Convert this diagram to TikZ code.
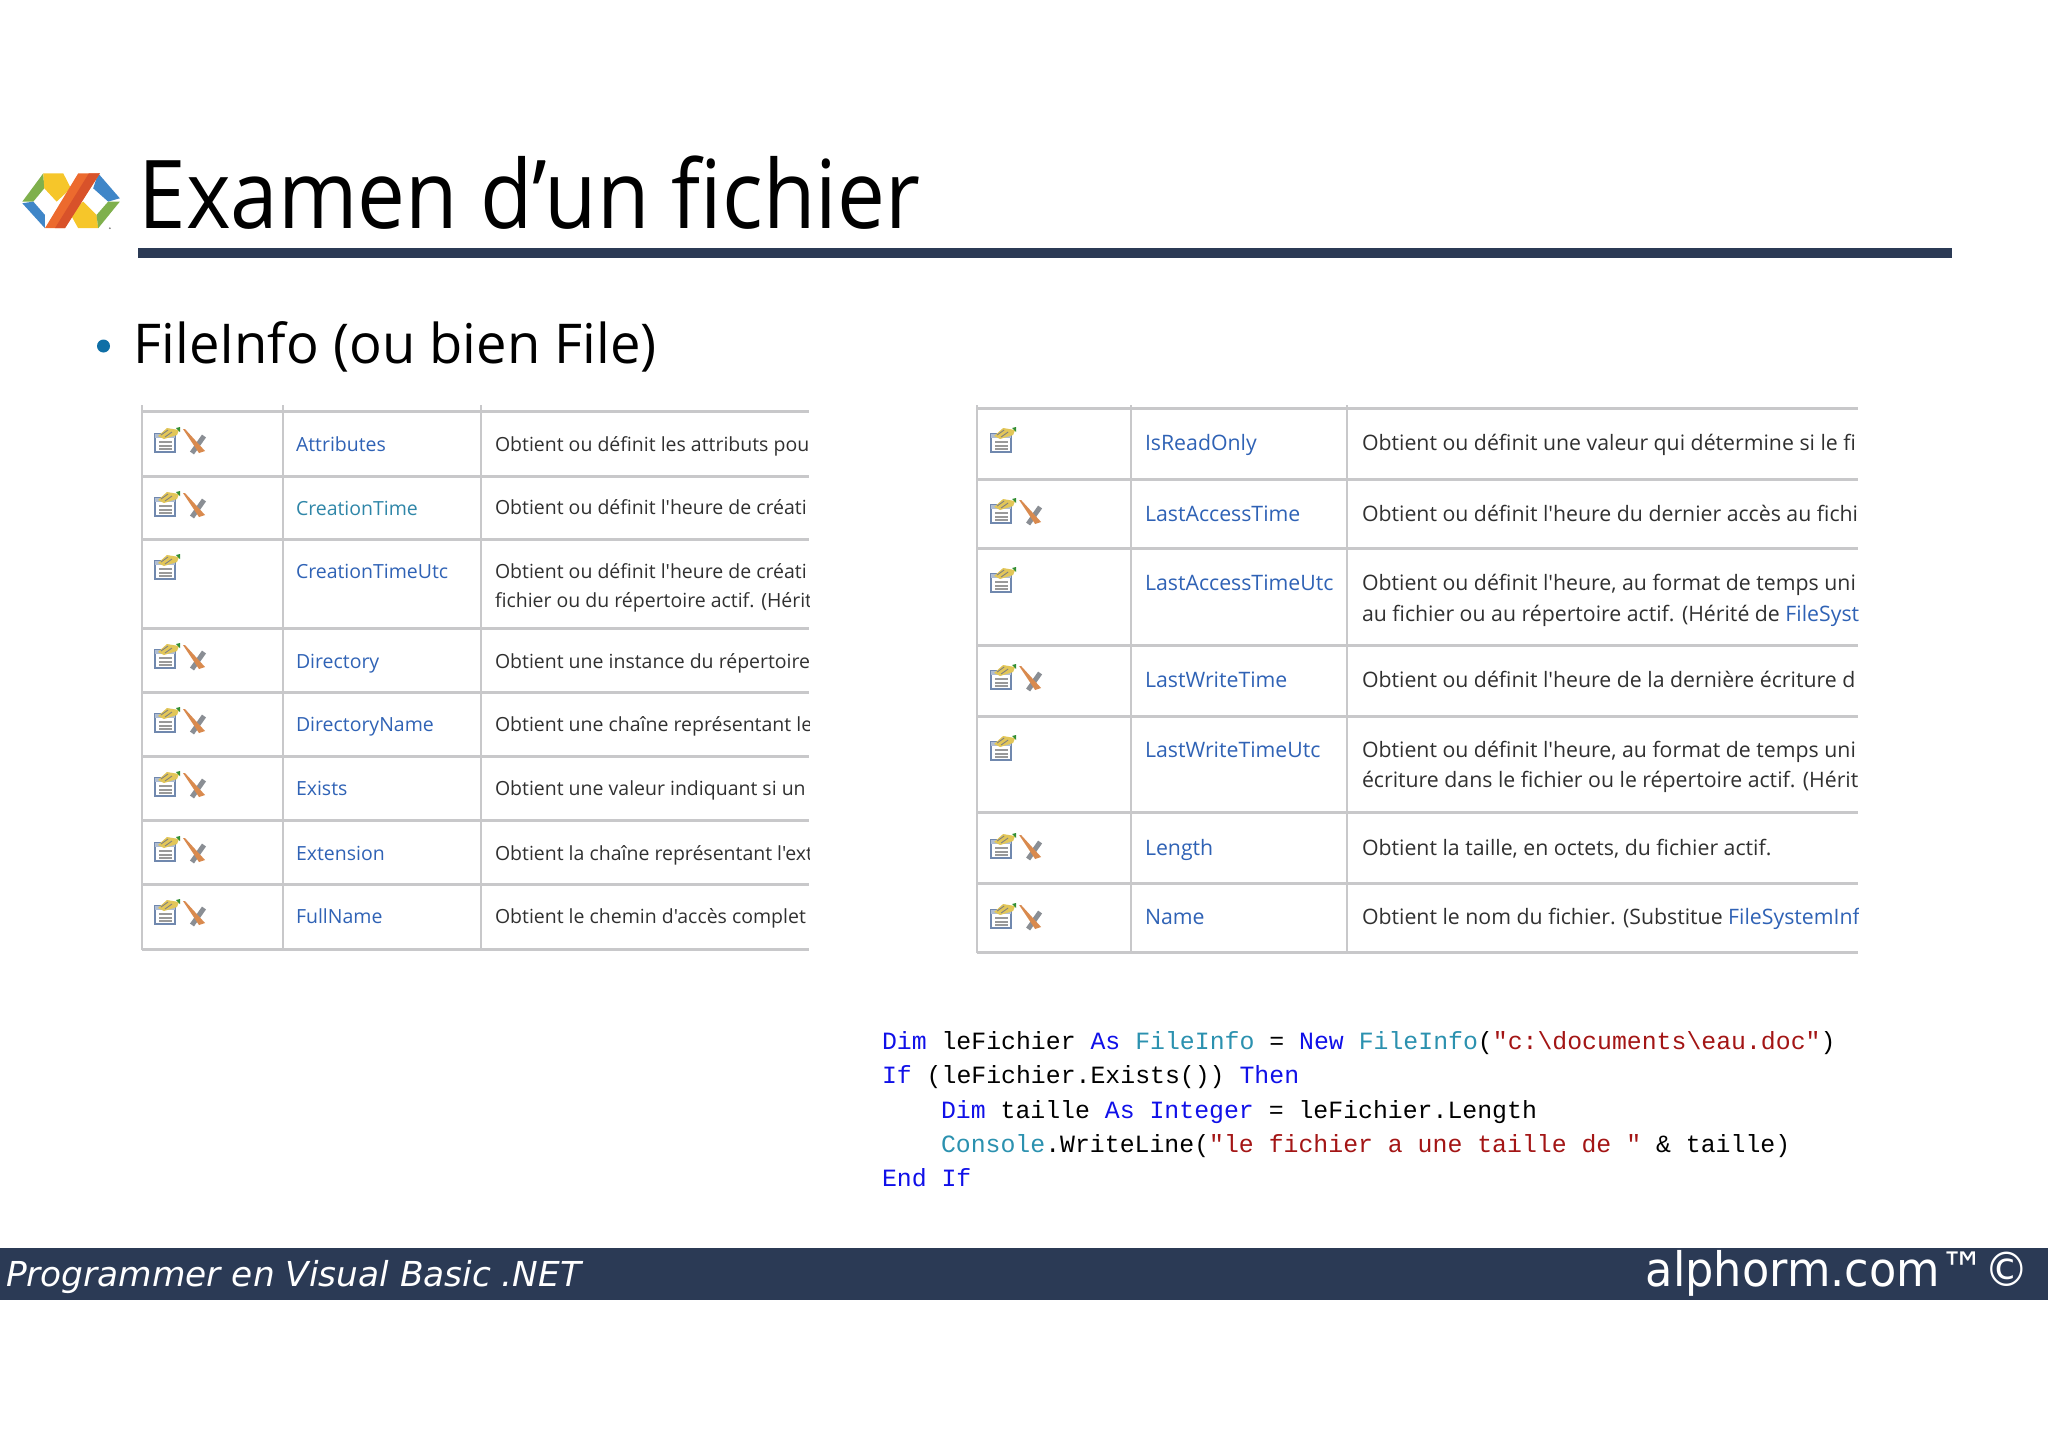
\documentclass[tikz,border=0pt]{standalone}
\usepackage{fontspec}
\usepackage{xcolor}
\newfontfamily\titlefont[FakeStretch=0.90]{Open Sans}
\newfontfamily\slidefont{Open Sans}
\newfontfamily\bulletfont[FakeStretch=0.99]{Open Sans}
\newfontfamily\codefont{Liberation Mono}
\newfontfamily\footfont{DejaVu Sans}
\newfontfamily\brandfont[FakeStretch=0.94]{DejaVu Sans}
\definecolor{barblue}{HTML}{2B3A55}
\definecolor{dotblue}{HTML}{0F6FA6}
\definecolor{linkblue}{HTML}{2F62B5}
\definecolor{linkteal}{HTML}{2F86A8}
\definecolor{gridgray}{HTML}{C8C8CA}
\definecolor{celltext}{HTML}{303030}
\definecolor{kwblue}{HTML}{1010E8}
\definecolor{typeteal}{HTML}{2B91AF}
\definecolor{strred}{HTML}{A31515}
\definecolor{logogreen}{HTML}{7FB04C}
\definecolor{logoblue}{HTML}{3F86C8}
\definecolor{logoyellow}{HTML}{F6C62A}
\definecolor{logoorange}{HTML}{EC6A2E}
\definecolor{logored}{HTML}{D8522A}
\definecolor{handyellow}{HTML}{E2C658}
\definecolor{paperblue}{HTML}{7088AE}
\definecolor{xorange}{HTML}{D98A4E}
\definecolor{xgray}{HTML}{8A8E94}
\tikzset{
  txt/.style={anchor=base west,inner sep=0pt,outer sep=0pt},
  title/.style={txt,font=\titlefont\fontsize{27}{30}\selectfont},
  bullet/.style={txt,font=\bulletfont\fontsize{15.6}{18}\selectfont},
  leftcell/.style={txt,text=celltext,font=\slidefont\fontsize{5.54}{7}\selectfont},
  rightcell/.style={txt,text=celltext,font=\slidefont\fontsize{6.05}{7}\selectfont},
  gridh/.style={gridgray,line width=0.85pt},
  gridv/.style={gridgray,line width=0.55pt},
  code/.style={txt,font=\codefont\fontsize{7.06}{9}\selectfont},
  propicon/.pic={
    \fill[white,draw=paperblue,line width=0.4pt] (0,6) rectangle (20,24);
    \fill[paperblue!55] (0,6) rectangle (20,10);
    \draw[black!40,line width=0.3pt] (4,14) -- (17,14) (4,18) -- (17,18) (4,21) -- (17,21);
    \fill[handyellow] (3,8) -- (12,0) -- (24,2) -- (22,7) -- (9,11) -- cycle;
    \draw[black!50,line width=0.25pt] (6,7) -- (13,2) (10,9) -- (17,4);
    \fill[green!45!black!80] (21,0) -- (25,-1) -- (25,4) -- cycle;
  },
  statx/.pic={
    \draw[xgray,line width=1.4pt] (49,8) -- (37,25);
    \fill[xorange] (28,1) -- (30,1) -- (50,23) -- (44,25) -- cycle;
  }
}

\begin{document}
\begin{tikzpicture}[x=0.01cm,y=-0.01cm]
\useasboundingbox (0,0) rectangle (2048,1447);

% logo
\begin{scope}[shift={(15,160)},x=0.00333cm,y=-0.00333cm]
\fill[logogreen] (22,125) -- (85,40) -- (88,85) -- (55,125) -- cycle;
\fill[logoblue] (22,130) -- (55,125) -- (90,165) -- (90,205) -- cycle;
\fill[logoyellow] (85,40) -- (145,40) -- (168,85) -- (125,125) -- (88,85) -- cycle;
\fill[logoyellow] (165,160) -- (205,125) -- (245,165) -- (250,205) -- (190,205) -- cycle;
\fill[logoblue] (250,40) -- (315,115) -- (280,125) -- (235,85) -- cycle;
\fill[logogreen] (315,125) -- (280,125) -- (245,165) -- (250,205) -- cycle;
\fill[logoorange] (190,40) -- (255,40) -- (150,205) -- (90,205) -- cycle;
\fill[logored] (222,40) -- (255,40) -- (150,205) -- (120,205) -- cycle;
\fill[gray] (285,205) circle (3);
\end{scope}

% title
\node[title] (titre) at (138.5,228) {Examen d’un fichier};
\fill[barblue] (138,248) rectangle (1952,258);
\fill[dotblue] (103.5,346) circle (6.5);
\node[bullet] (point) at (133.5,363) {FileInfo (ou bien File)};

% left table
\draw[gridv] (142,405) -- (142,950);
\draw[gridv] (283,405) -- (283,950);
\draw[gridv] (481,405) -- (481,950);
\draw[gridh] (142,411) -- (809,411);
\draw[gridh] (142,476) -- (809,476);
\draw[gridh] (142,539) -- (809,539);
\draw[gridh] (142,628) -- (809,628);
\draw[gridh] (142,692) -- (809,692);
\draw[gridh] (142,756) -- (809,756);
\draw[gridh] (142,820) -- (809,820);
\draw[gridh] (142,884) -- (809,884);
\draw[gridh] (142,949) -- (809,949);

\pic at (155,428) {propicon}; \pic at (155,428) {statx};
\pic at (155,492) {propicon}; \pic at (155,492) {statx};
\pic at (155,555) {propicon};
\pic at (155,644) {propicon}; \pic at (155,644) {statx};
\pic at (155,708) {propicon}; \pic at (155,708) {statx};
\pic at (155,772) {propicon}; \pic at (155,772) {statx};
\pic at (155,837) {propicon}; \pic at (155,837) {statx};
\pic at (155,900) {propicon}; \pic at (155,900) {statx};

\begin{scope}
\clip (283,400) rectangle (809,955);
\node[leftcell,text=linkblue] (attributes) at (296,451) {Attributes};
\node[leftcell,text=linkteal] (creation) at (296,515) {CreationTime};
\node[leftcell,text=linkblue] (creationutc) at (296,578) {CreationTimeUtc};
\node[leftcell,text=linkblue] (directory) at (296,668) {Directory};
\node[leftcell,text=linkblue] (dirname) at (296,731) {DirectoryName};
\node[leftcell,text=linkblue] (exists) at (296,795) {Exists};
\node[leftcell,text=linkblue] (extension) at (296,860) {Extension};
\node[leftcell,text=linkblue] (fullname) at (296,923) {FullName};
\node[leftcell] (attributesd) at (495,451) {Obtient ou définit les attributs pou};
\node[leftcell] (creationd) at (495,514) {Obtient ou définit l'heure de créati};
\node[leftcell] (creationutcd) at (495,578) {Obtient ou définit l'heure de créati};
\node[leftcell] (creationutce) at (495,607) {fichier ou du répertoire actif. (Hérit};
\node[leftcell] (directoryd) at (495,668) {Obtient une instance du répertoire};
\node[leftcell] (dirnamed) at (495,731) {Obtient une chaîne représentant le};
\node[leftcell] (existsd) at (495,795) {Obtient une valeur indiquant si un};
\node[leftcell] (extensiond) at (495,860) {Obtient la chaîne représentant l'ext};
\node[leftcell] (fullnamed) at (495,923) {Obtient le chemin d'accès complet};
\end{scope}

% right table
\draw[gridv] (977,405) -- (977,953);
\draw[gridv] (1131,405) -- (1131,953);
\draw[gridv] (1347,405) -- (1347,953);
\draw[gridh] (977,408) -- (1858,408);
\draw[gridh] (977,479) -- (1858,479);
\draw[gridh] (977,548) -- (1858,548);
\draw[gridh] (977,645) -- (1858,645);
\draw[gridh] (977,716) -- (1858,716);
\draw[gridh] (977,812) -- (1858,812);
\draw[gridh] (977,883) -- (1858,883);
\draw[gridh] (977,952) -- (1858,952);

\begin{scope}[xscale=1.1]
\pic at (901,428) {propicon};
\pic at (901,499) {propicon}; \pic at (901,499) {statx};
\pic at (901,568) {propicon};
\pic at (901,665) {propicon}; \pic at (901,665) {statx};
\pic at (901,736) {propicon};
\pic at (901,834) {propicon}; \pic at (901,834) {statx};
\pic at (901,904) {propicon}; \pic at (901,904) {statx};
\end{scope}

\begin{scope}
\clip (1131,400) rectangle (1858,958);
\node[rightcell,text=linkblue] (readonly) at (1145,450) {IsReadOnly};
\node[rightcell,text=linkblue] (access) at (1145,521) {LastAccessTime};
\node[rightcell,text=linkblue] (accessutc) at (1145,590) {LastAccessTimeUtc};
\node[rightcell,text=linkblue] (write) at (1145,687) {LastWriteTime};
\node[rightcell,text=linkblue] (writeutc) at (1145,757) {LastWriteTimeUtc};
\node[rightcell,text=linkblue] (length) at (1145,855) {Length};
\node[rightcell,text=linkblue] (name) at (1145,924) {Name};
\node[rightcell] (readonlyd) at (1362,450) {Obtient ou définit une valeur qui détermine si le fi};
\node[rightcell] (accessd) at (1362,521) {Obtient ou définit l'heure du dernier accès au fichi};
\node[rightcell] (accessutcd) at (1362,590) {Obtient ou définit l'heure, au format de temps uni};
\node[rightcell] (accessutce) at (1362,621) {au fichier ou au répertoire actif. (Hérité de \textcolor{linkblue}{FileSyst}};
\node[rightcell] (writed) at (1362,687) {Obtient ou définit l'heure de la dernière écriture d};
\node[rightcell] (writeutcd) at (1362,757) {Obtient ou définit l'heure, au format de temps uni};
\node[rightcell] (writeutce) at (1362,787) {écriture dans le fichier ou le répertoire actif. (Hérit};
\node[rightcell] (lengthd) at (1362,855) {Obtient la taille, en octets, du fichier actif.};
\node[rightcell] (named) at (1362,924) {Obtient le nom du fichier. (Substitue \textcolor{linkblue}{FileSystemInf}};
\end{scope}

% code
\node[code] (ligne1) at (882,1049) {\textcolor{kwblue}{Dim} leFichier \textcolor{kwblue}{As} \textcolor{typeteal}{FileInfo} = \textcolor{kwblue}{New} \textcolor{typeteal}{FileInfo}(\textcolor{strred}{"c:\string\documents\string\eau.doc"})};
\node[code] (ligne2) at (882,1083) {\textcolor{kwblue}{If} (leFichier.Exists()) \textcolor{kwblue}{Then}};
\node[code] (ligne3) at (941,1118) {\textcolor{kwblue}{Dim} taille \textcolor{kwblue}{As} \textcolor{kwblue}{Integer} = leFichier.Length};
\node[code] (ligne4) at (941,1152) {\textcolor{typeteal}{Console}.WriteLine(\textcolor{strred}{"le fichier a une taille de "} \& taille)};
\node[code] (ligne5) at (882,1186) {\textcolor{kwblue}{End} \textcolor{kwblue}{If}};

% footer
\fill[barblue] (0,1248) rectangle (2048,1300);
\node[txt,text=white,font=\footfont\itshape\fontsize{9.77}{11}\selectfont] (cours) at (6,1286) {Programmer en Visual Basic .NET};
\node[anchor=base east,inner sep=0pt,text=white,font=\brandfont\fontsize{13.5}{15}\selectfont] (marque) at (2030,1286) {alphorm.com™©};
\end{tikzpicture}
\end{document}
